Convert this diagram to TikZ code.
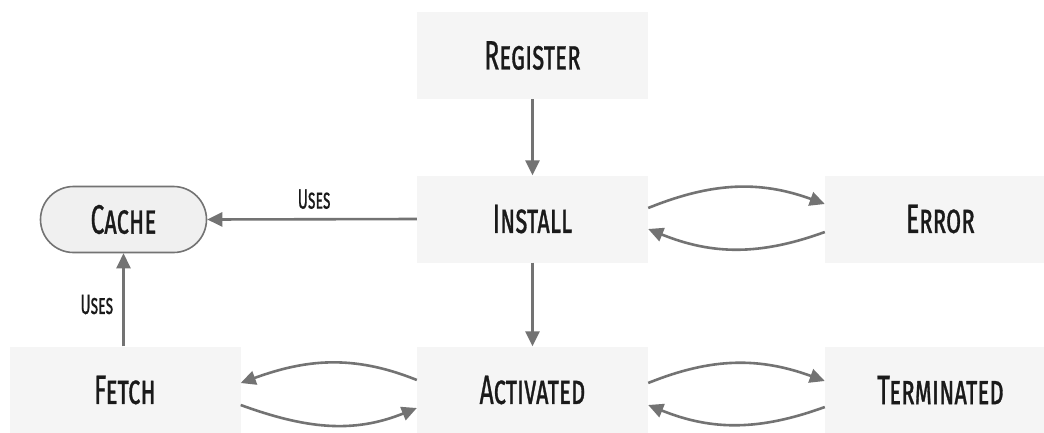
\documentclass[tikz,border=0pt]{standalone}
\usepackage{fontspec}
\setmainfont{Fira Sans}[Letters=SmallCaps,FakeStretch=0.6,FakeBold=0.7]
\newfontfamily\tagfont{Fira Sans}[Letters=SmallCaps,FakeStretch=0.55,FakeBold=0.6]
\usetikzlibrary{arrows.meta,calc}
\definecolor{boxfill}{HTML}{F5F5F5}
\definecolor{cachefill}{HTML}{F0F0F0}
\definecolor{linegray}{HTML}{737373}
\definecolor{ink}{HTML}{1A1A1A}
\tikzset{
  state/.style={fill=boxfill,draw=none,minimum width=231pt,minimum height=87pt,
    inner sep=0pt,text=ink,font=\fontsize{41}{41}\selectfont},
  store/.style={fill=cachefill,draw=linegray,line width=1.6pt,rounded corners=33pt,
    minimum width=166pt,minimum height=66pt,inner sep=0pt,text=ink,
    font=\fontsize{41}{41}\selectfont},
  flow/.style={draw=linegray,line width=2.6pt,
    -{Triangle[length=15pt,width=14pt]}},
  tag/.style={text=ink,font=\tagfont\fontsize{28}{28}\selectfont,inner sep=0pt}
}
\begin{document}
\begin{tikzpicture}[x=1pt,y=-1pt]
\useasboundingbox[fill=white] (0,0) rectangle (1044,432);

\node[state] (register) at (532.5,55.5) {Register};
\node[state] (install) at (532.5,219) {Install};
\node[state] (error) at (940.5,219) {Error};
\node[state] (fetch) at (125,390) {Fetch};
\node[state] (activated) at (532.5,390) {Activated};
\node[state] (terminated) at (940.5,390) {Terminated};
\node[store] (cache) at (123.5,219.5) {Cache};

% main lifecycle
\draw[flow] (register) -- (install);
\draw[flow] (install) -- (activated);

% cache usage
\draw[flow] (install.west) -- node[tag,above=9pt,pos=0.49] (uses1) {Uses} (cache.east);
\draw[flow] (fetch.north -| cache.south) -- node[tag,left=9pt,pos=0.45] (uses2) {Uses} (cache.south);

% install <-> error
\draw[flow] ([yshift=11pt]install.east) to[out=22,in=160] ([yshift=15pt]error.west);
\draw[flow] ([yshift=-13pt]error.west) to[out=200,in=-22] ([yshift=-10pt]install.east);

% activated <-> terminated
\draw[flow] ([yshift=7pt]activated.east) to[out=22,in=160] ([yshift=9pt]terminated.west);
\draw[flow] ([yshift=-17pt]terminated.west) to[out=200,in=-22] ([yshift=-15pt]activated.east);

% fetch <-> activated
\draw[flow] ([yshift=10pt]activated.west) to[out=158,in=20] ([yshift=7pt]fetch.east);
\draw[flow] ([yshift=-15pt]fetch.east) to[out=-20,in=202] ([yshift=-18pt]activated.west);
\end{tikzpicture}
\end{document}
